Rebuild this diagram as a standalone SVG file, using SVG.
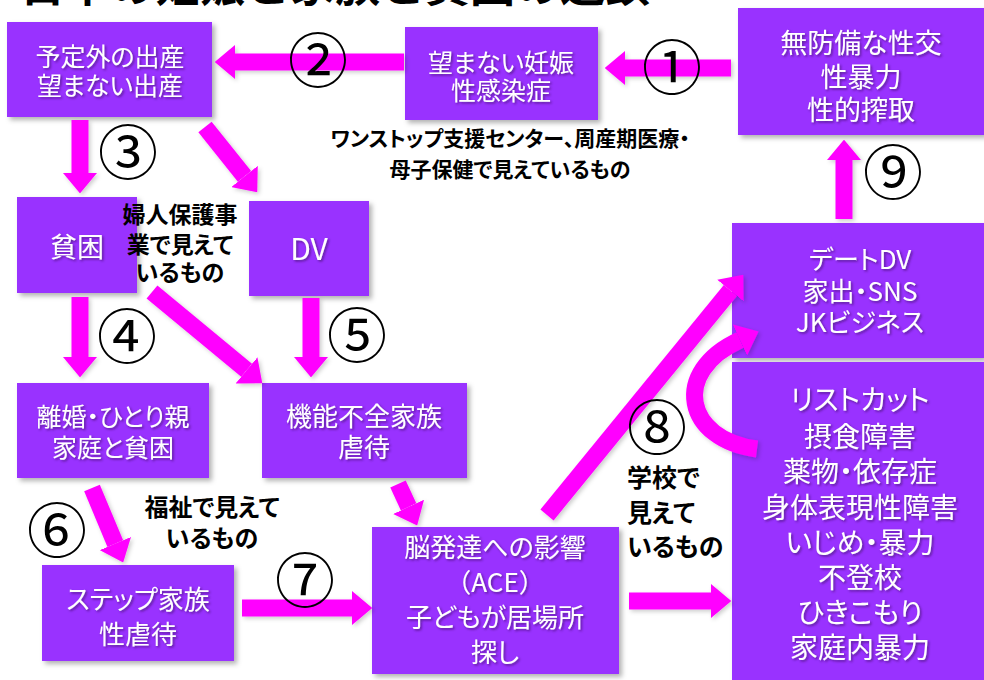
<svg xmlns="http://www.w3.org/2000/svg" width="984" height="680" viewBox="0 0 984 680">
<defs>
<filter id="sh" x="-10%" y="-10%" width="130%" height="130%"><feDropShadow dx="3" dy="3" stdDeviation="2.5" flood-color="#000" flood-opacity="0.3"/></filter>
<filter id="tsh" x="-10%" y="-20%" width="130%" height="150%"><feDropShadow dx="1.5" dy="1.5" stdDeviation="1" flood-color="#301050" flood-opacity="0.6"/></filter>
<filter id="ash" x="-20%" y="-20%" width="150%" height="150%"><feDropShadow dx="2" dy="2" stdDeviation="2" flood-color="#000" flood-opacity="0.2"/></filter>
<marker id="ah" viewBox="0 0 1.2 2" markerWidth="1.2" markerHeight="2" refX="0" refY="1" orient="auto" markerUnits="strokeWidth"><path d="M0,0 L1.2,1 L0,2 z" fill="#FF00FF"/></marker>
<style>
.box{fill:#9933FF;filter:url(#sh)}
.bt{font-family:"Noto Sans CJK JP","Noto Sans",sans-serif;fill:#fff;text-anchor:middle;filter:url(#tsh);font-feature-settings:"palt" 1}
.bn{font-family:"Noto Sans CJK JP","Noto Sans",sans-serif;fill:#fff;text-anchor:middle;filter:url(#tsh)}
.lbl{font-family:"Noto Sans CJK JP","Noto Sans",sans-serif;font-weight:700;fill:#000;text-anchor:middle;font-feature-settings:"palt" 1}
.num{font-family:"Noto Sans CJK JP","DejaVu Sans",sans-serif;font-size:60px;fill:#000;text-anchor:middle}
.arr{stroke:#FF00FF;stroke-width:17;fill:none;marker-end:url(#ah)}
</style>
</defs>
<rect width="984" height="680" fill="#fff"/>
<text x="20" y="2" font-family="'Noto Sans CJK JP',sans-serif" font-weight="700" font-size="45" fill="#000">日本の妊娠と家族と貧困の連鎖</text>

<g id="nodeA"><rect class="box" x="7" y="22" width="205" height="95"/>
<text class="bt" font-size="25" x="110" y="66">予定外の出産</text>
<text class="bt" font-size="25" x="110" y="95">望まない出産</text></g>
<g id="nodeB"><rect class="box" x="405" y="27" width="193" height="93"/>
<text class="bt" font-size="25" x="501" y="72">望まない妊娠</text>
<text class="bt" font-size="25" x="501" y="100">性感染症</text></g>
<g id="nodeC"><rect class="box" x="738" y="8" width="246" height="127"/>
<text class="bt" font-size="27" x="861" y="53">無防備な性交</text>
<text class="bt" font-size="27" x="861" y="87">性暴力</text>
<text class="bt" font-size="27" x="861" y="120">性的搾取</text></g>
<g id="nodeD"><rect class="box" x="17" y="197" width="120" height="96"/>
<text class="bt" font-size="27" x="77" y="257">貧困</text></g>
<g id="nodeE"><rect class="box" x="249" y="201" width="120" height="95"/>
<text class="bt" font-size="30" x="309" y="260">DV</text></g>
<g id="nodeF"><rect class="box" x="17" y="383" width="192" height="95"/>
<text class="bt" font-size="25" x="113" y="426">離婚・ひとり親</text>
<text class="bt" font-size="25" x="113" y="457">家庭と貧困</text></g>
<g id="nodeG"><rect class="box" x="262" y="383" width="205" height="95"/>
<text class="bt" font-size="26" x="364" y="426">機能不全家族</text>
<text class="bt" font-size="26" x="364" y="457">虐待</text></g>
<g id="nodeI"><rect class="box" x="42" y="565" width="192" height="96"/>
<text class="bt" font-size="26" x="138" y="609">ステップ家族</text>
<text class="bt" font-size="26" x="138" y="644">性虐待</text></g>
<g id="nodeH"><rect class="box" x="372" y="527" width="247" height="147"/>
<text class="bt" font-size="26" x="495" y="557">脳発達への影響</text>
<text class="bn" font-size="26" x="495" y="592">（ACE）</text>
<text class="bt" font-size="26" x="495" y="627">子どもが居場所</text>
<text class="bt" font-size="26" x="495" y="662">探し</text></g>
<g id="nodeK"><rect class="box" x="732" y="223" width="252" height="135"/>
<text class="bt" font-size="26" x="860" y="269">デートDV</text>
<text class="bt" font-size="26" x="860" y="301">家出・SNS</text>
<text class="bt" font-size="26" x="860" y="332">JKビジネス</text></g>
<g id="nodeJ"><rect class="box" x="732" y="362" width="252" height="318"/>
<text class="bt" font-size="28" x="860" y="410">リストカット</text>
<text class="bt" font-size="28" x="860" y="447">摂食障害</text>
<text class="bt" font-size="28" x="860" y="482">薬物・依存症</text>
<text class="bt" font-size="28" x="860" y="518">身体表現性障害</text>
<text class="bt" font-size="28" x="860" y="553">いじめ・暴力</text>
<text class="bt" font-size="28" x="860" y="588">不登校</text>
<text class="bt" font-size="28" x="860" y="623">ひきこもり</text>
<text class="bt" font-size="28" x="860" y="658">家庭内暴力</text></g>

<g id="connectors" filter="url(#ash)">
<line class="arr" x1="731" y1="68" x2="625" y2="68"/>
<line class="arr" x1="404" y1="62" x2="235" y2="62"/>
<line class="arr" x1="80" y1="120" x2="80" y2="173"/>
<line class="arr" x1="205" y1="127" x2="244.5" y2="176.4"/>
<line class="arr" x1="80" y1="297" x2="80" y2="357"/>
<line class="arr" x1="152" y1="292" x2="246.6" y2="370.3"/>
<line class="arr" x1="311" y1="298" x2="311" y2="357"/>
<line class="arr" x1="92" y1="488" x2="115.3" y2="543.6"/>
<line class="arr" x1="398" y1="484" x2="408.6" y2="506.9"/>
<line class="arr" x1="242" y1="608" x2="352" y2="608"/>
<line class="arr" x1="629" y1="601" x2="711" y2="601"/>
<line class="arr" x1="547" y1="515" x2="730.4" y2="290.5" stroke-width="16"/>
<line class="arr" x1="844" y1="219" x2="844" y2="160"/>
<path class="arr" d="M757 449 C685 440 670 372 740 340"/>
</g>

<g id="labels">
<text class="lbl" font-size="21" x="510" y="146">ワンストップ支援センター、周産期医療・</text>
<text class="lbl" font-size="21" x="510" y="177">母子保健で見えているもの</text>
<text class="lbl" font-size="23" x="180" y="223">婦人保護事</text>
<text class="lbl" font-size="23" x="180" y="253">業で見えて</text>
<text class="lbl" font-size="23" x="180" y="281">いるもの</text>
<text class="lbl" font-size="24" x="212" y="516">福祉で見えて</text>
<text class="lbl" font-size="24" x="212" y="547">いるもの</text>
<text class="lbl" font-size="25" x="627" y="487" style="text-anchor:start">学校で</text>
<text class="lbl" font-size="25" x="627" y="522" style="text-anchor:start">見えて</text>
<text class="lbl" font-size="25" x="627" y="556" style="text-anchor:start">いるもの</text>
</g>

<g id="numbers">
<text class="num" x="672" y="90">①</text>
<text class="num" x="318" y="83">②</text>
<text class="num" x="128" y="175">③</text>
<text class="num" x="127" y="359">④</text>
<text class="num" x="357" y="358">⑤</text>
<text class="num" x="57" y="553">⑥</text>
<text class="num" x="305" y="603">⑦</text>
<text class="num" x="657" y="450">⑧</text>
<text class="num" x="893" y="195">⑨</text>
</g>
</svg>
